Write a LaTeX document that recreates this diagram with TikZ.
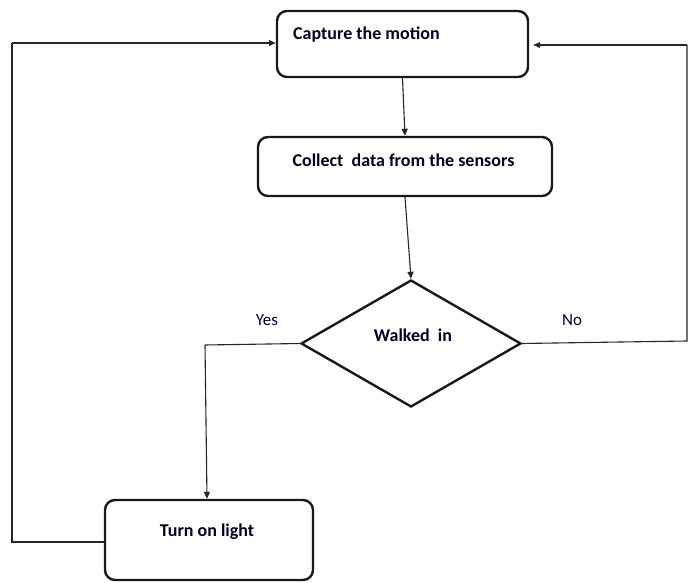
\documentclass[tikz,border=0pt]{standalone}
\usepackage{fontspec}
\setmainfont{Carlito}
\usetikzlibrary{shapes.geometric,arrows.meta}
\begin{document}
\begin{tikzpicture}[x=1pt,y=-1pt,
  box/.style={draw=black!90, line width=2.4pt, rounded corners=10pt, inner sep=0pt},
  txt/.style={font=\fontsize{18}{20}\selectfont\bfseries, text=black!85!blue, inner sep=0pt},
  lbl/.style={font=\fontsize{17}{19}\selectfont, text=black!80!blue, inner sep=0pt},
  conn/.style={draw=black!85, line width=1.1pt},
  arr/.style={conn, -{Triangle[length=7pt,width=6pt]}}]
\useasboundingbox (0,0) rectangle (694,583);
% boxes
\node[box, minimum width=251pt, minimum height=66pt] (b1) at (402.5,44) {};
\node[txt, anchor=west] (t1) at (293,35) {Capture the motion};
\node[box, minimum width=294pt, minimum height=59pt] (b2) at (405,166.5) {};
\node[txt] (t2) at (403.5,160) {Collect\ \ data from the sensors};
\node[draw=black!90, line width=2.4pt, diamond, minimum width=220pt, minimum height=127pt, inner sep=0pt] (d) at (411,343.5) {};
\node[txt] (t3) at (413,335) {Walked\ \ in};
\node[box, minimum width=208pt, minimum height=80pt] (b3) at (209,540) {};
\node[txt] (t4) at (207,532) {Turn on light};
% labels
\node[lbl] (yes) at (267,320) {Yes};
\node[lbl] (no) at (572,320) {No};
% coordinates
\coordinate (y1) at (205,345);
\coordinate (y2) at (207,495);
\coordinate (n1) at (687,341);
\coordinate (n2) at (687,45);
\coordinate (l1) at (12,542);
\coordinate (l2) at (12,43);
% connectors
\draw[arr] (b1.south) -- (b2.north);
\draw[arr] (b2.south) -- (d.north);
\draw[conn] (d.west) -- (y1);
\draw[arr] (y1) -- (b3.north -| y2);
\draw[conn] (d.east) -- (n1) -- (n2);
\draw[arr] (n2) -- ([xshift=4pt]b1.east |- n2);
\draw[conn] (b3.west |- l1) -- (l1) -- (l2);
\draw[arr] (l2) -- (b1.west |- l2);
\end{tikzpicture}
\end{document}
